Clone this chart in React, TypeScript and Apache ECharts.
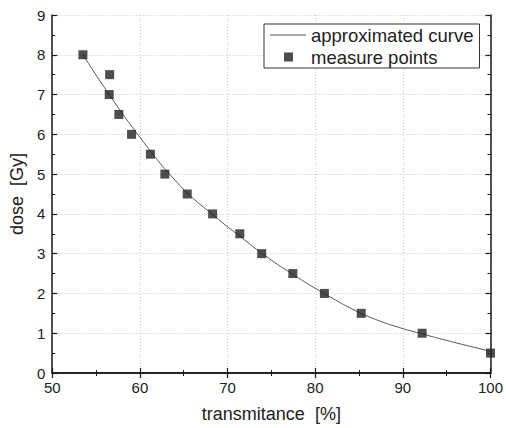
import React, { useEffect, useRef } from "react";
import * as echarts from "echarts";

const measureT = [53.5, 56.55, 56.5, 57.6, 59.05, 61.2, 62.85, 65.4, 68.3, 71.4, 73.9, 77.45, 81.05, 85.25, 92.2, 100];
const measureDose = [8, 7.5, 7, 6.5, 6, 5.5, 5, 4.5, 4, 3.5, 3, 2.5, 2, 1.5, 1, 0.5];

const curveT = [53.5, 55, 56.5, 58, 59.5, 61, 62.5, 64, 65.4, 66.8, 68.2, 69.8, 71.4, 72.6, 73.9, 75.7, 77.45, 79.2, 81, 83, 85.2, 86.9, 88.6, 90.4, 92.2, 94, 96, 98, 100];
const curveDose = [8.0, 7.49, 7.0, 6.52, 6.07, 5.64, 5.22, 4.85, 4.52, 4.25, 4.0, 3.71, 3.44, 3.23, 3.01, 2.73, 2.48, 2.235, 2.0, 1.75, 1.5, 1.345, 1.21, 1.09, 0.985, 0.875, 0.762, 0.652, 0.545];

const xTicks = { min: 50, max: 100, interval: 10 };
const yTicks = { min: 0, max: 9, interval: 1 };

const FONT = "'Liberation Sans', Arial, Helvetica, sans-serif";
const TEXT = "#222";

export default function App() {
  const ref = useRef<HTMLDivElement>(null);
  useEffect(() => {
    document.body.style.margin = "0";
    if (!ref.current) return;
    const chart = echarts.init(ref.current, null, { renderer: "svg" });
    const axisLine = { show: true, lineStyle: { color: "#1a1a1a", width: 1.5 } };
    const axisTick = { show: true, inside: true, length: 5, lineStyle: { color: "#1a1a1a", width: 1.2 } };
    const minorTick = { show: true, splitNumber: 2, length: 3, lineStyle: { color: "#1a1a1a", width: 1 } };
    const splitLine = { show: true, lineStyle: { color: "#c8c8c8", width: 1, type: [1, 2] } };
    chart.setOption({
      animation: false,
      textStyle: { fontFamily: FONT },
      grid: { left: 49, top: 15, right: 15, bottom: 52 },
      legend: {
        orient: "vertical",
        left: 264,
        top: 24,
        padding: [1, 6, 1, 6],
        itemGap: 2,
        itemWidth: 36,
        itemHeight: 9,
        borderColor: "#333",
        borderWidth: 1,
        backgroundColor: "#fff",
        textStyle: { fontSize: 18.5, color: TEXT, fontFamily: FONT, lineHeight: 20 },
        data: [
          { name: "approximated curve", icon: "path://M0,0 M36,9 M0,4 h36 v1 h-36 z" },
          { name: "measure points", icon: "path://M0,0 M36,9 M14,0 h9 v9 h-9 z" },
        ],
      },
      xAxis: [
        {
          type: "value",
          ...xTicks,
          position: "bottom",
          name: "transmitance  [%]",
          nameLocation: "middle",
          nameGap: 32,
          nameTextStyle: { fontSize: 18, color: TEXT, fontFamily: FONT },
          axisLine,
          axisTick,
          minorTick,
          splitLine,
          axisLabel: { fontSize: 15, color: TEXT, margin: 7, fontFamily: FONT },
        },
        {
          type: "value",
          ...xTicks,
          position: "top",
          axisLine,
          axisTick,
          minorTick,
          splitLine: { show: false },
          axisLabel: { show: false },
        },
      ],
      yAxis: [
        {
          type: "value",
          ...yTicks,
          position: "left",
          name: "dose  [Gy]",
          nameLocation: "middle",
          nameGap: 24,
          nameTextStyle: { fontSize: 18, color: TEXT, fontFamily: FONT },
          axisLine,
          axisTick,
          minorTick,
          splitLine,
          axisLabel: { fontSize: 15, color: TEXT, margin: 7, fontFamily: FONT },
        },
        {
          type: "value",
          ...yTicks,
          position: "right",
          axisLine,
          axisTick,
          minorTick,
          splitLine: { show: false },
          axisLabel: { show: false },
        },
      ],
      series: [
        {
          name: "approximated curve",
          type: "line",
          data: curveT.map((t, i) => [t, curveDose[i]]),
          symbol: "none",
          smooth: 0.2,
          lineStyle: { color: "#555", width: 1 },
          itemStyle: { color: "#555" },
          z: 3,
        },
        {
          name: "measure points",
          type: "scatter",
          data: measureT.map((t, i) => [t, measureDose[i]]),
          symbol: "rect",
          symbolSize: 9,
          itemStyle: { color: "#222" },
          z: 4,
        },
      ],
    });
    return () => chart.dispose();
  }, []);
  return <div ref={ref} style={{ width: 506, height: 428 }} />;
}
